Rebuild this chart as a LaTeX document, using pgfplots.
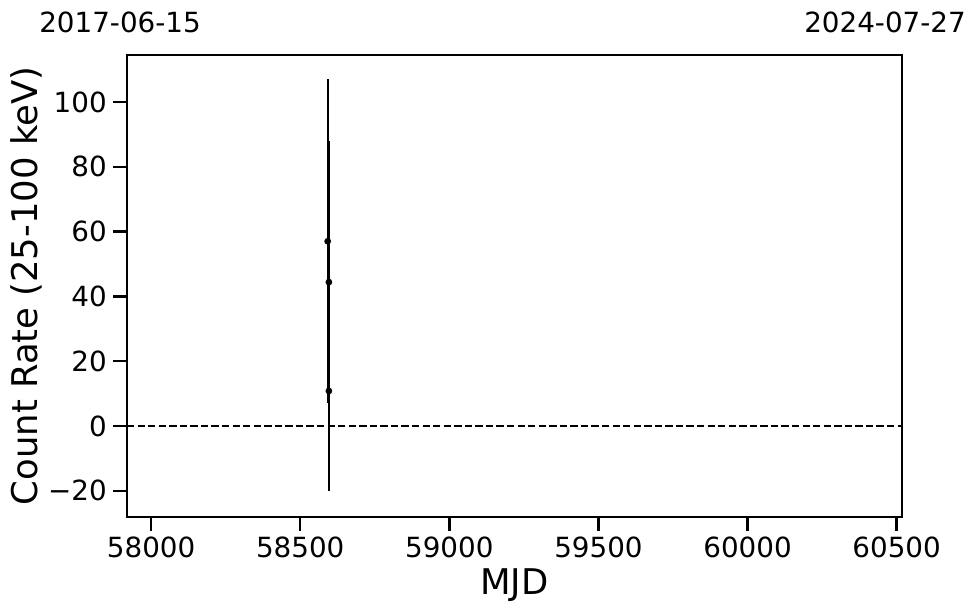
\documentclass[border=0pt]{standalone}
\usepackage{fontspec}
\setmainfont{DejaVu Sans}
\usepackage{pgfplots}
\pgfplotsset{compat=1.18}
\begin{document}
\begin{tikzpicture}
\begin{axis}[
  scale only axis,
  width=558pt, height=332.64pt,
  xmin=57919, xmax=60518,
  ymin=-28.1, ymax=114.5,
  scaled x ticks=false, scaled y ticks=false,
  axis line style={line width=0.8pt},
  tick align=outside,
  xtick pos=bottom, ytick pos=left,
  major tick length=10pt,
  every tick/.style={line width=1.7pt, black},
  xtick={58000,58500,59000,59500,60000,60500},
  xticklabels={58000,58500,59000,59500,60000,60500},
  ytick={-20,0,20,40,60,80,100},
  yticklabels={−20,0,20,40,60,80,100},
  ticklabel style={font=\fontsize{20}{24}\selectfont, inner sep=0pt},
  yticklabel style={anchor=east, xshift=-4.4pt},
  xticklabel style={anchor=base, yshift=-19.5pt},
  xlabel={MJD},
  ylabel={Count Rate (25-100 keV)},
  label style={font=\fontsize{25.5}{30}\selectfont, inner sep=0pt},
  xlabel style={at={(rel axis cs:0.5,-0.1688)}, anchor=base},
  ylabel style={at={(rel axis cs:-0.1161,0.5)}, anchor=base, rotate=0},
  clip=false,
]
\addplot[black, line width=1.5pt, dash pattern=on 5.3pt off 2.3pt] coordinates {(57919,0) (60518,0)};
\addplot[black, only marks, mark=*, mark size=2.2pt,
  error bars/.cd, y dir=both, y explicit, error mark=none,
  error bar style={line width=1.7pt, black}]
  coordinates {
    (58592,57.0) +- (0,50.0)
    (58596,44.4) +- (0,43.6)
    (58596,10.8) +- (0,30.8)
  };
\node[anchor=base west, inner sep=0pt, font=\fontsize{20}{24}\selectfont] at (rel axis cs:-0.1135,1.0476) {2017-06-15};
\node[anchor=base east, inner sep=0pt, font=\fontsize{20}{24}\selectfont] at (rel axis cs:1.0826,1.0476) {2024-07-27};
\coordinate (bbl) at (rel axis cs:-0.16387,-0.20779);
\coordinate (btr) at (rel axis cs:1.10065,1.11905);
\end{axis}
\pgfresetboundingbox
\path (bbl) rectangle (btr);
\end{tikzpicture}
\end{document}
